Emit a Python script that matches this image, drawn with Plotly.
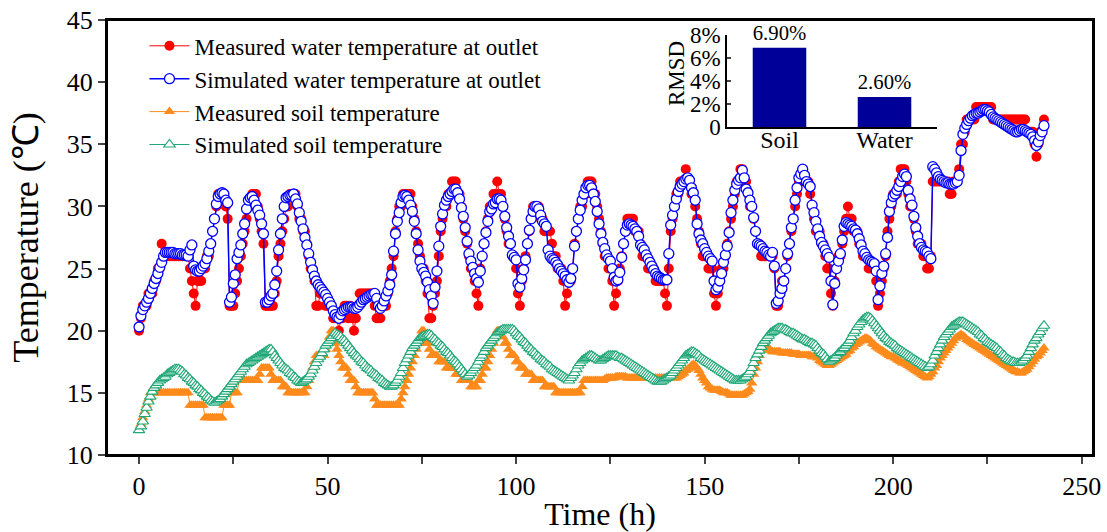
import plotly.graph_objects as go

# time stamps: whole hours and half hours
hours = list(range(241))
half_hours = [h + 0.5 for h in range(240)]

# ---- values read at whole hours ----
sim_water = [
    20.3, 21.7, 22.3, 23.0, 23.8, 24.6, 25.5, 26.3, 26.3, 26.3,
    26.2, 26.2, 26.1, 26.0, 26.9, 24.9, 24.8, 25.2, 25.8, 27.0,
    29.0, 30.8, 31.1, 30.5, 22.3, 23.8, 25.8, 26.9, 28.6, 30.5,
    30.8, 30.1, 29.3, 27.8, 22.3, 22.8, 23.7, 26.5, 29.0, 30.7,
    30.9, 31.0, 30.2, 28.8, 27.5, 26.2, 24.9, 24.0, 23.5, 23.1,
    22.6, 22.0, 21.3, 21.0, 21.6, 21.8, 21.9, 21.8, 21.9, 22.3,
    22.6, 22.8, 22.9, 22.6, 21.8, 22.4, 23.2, 24.5, 27.8, 29.5,
    30.8, 30.8, 30.1, 28.8, 26.5, 25.0, 24.4, 23.3, 22.2, 24.8,
    28.4, 30.1, 30.8, 31.2, 31.4, 30.6, 29.2, 27.2, 25.6, 24.6,
    23.9, 26.0, 27.9, 29.6, 30.2, 30.6, 30.5, 29.2, 27.6, 26.1,
    25.7, 23.5, 24.9, 27.0, 29.0, 30.0, 29.8, 28.8, 28.4, 26.0,
    25.7, 25.3, 24.8, 24.4, 23.9, 25.0, 28.0, 29.7, 31.0, 31.7,
    31.5, 30.4, 28.6, 27.1, 26.1, 25.6, 24.3, 24.1, 25.9, 28.0,
    28.6, 28.4, 28.0, 26.9, 26.5, 25.8, 25.2, 24.6, 24.3, 24.1,
    24.1, 28.5, 30.0, 31.2, 31.8, 32.2, 32.1, 31.1, 28.6, 27.3,
    26.6, 26.0, 25.6, 23.3, 24.0, 25.5, 26.8, 29.5, 31.3, 32.1,
    32.9, 31.4, 30.5, 29.1, 27.0, 26.8, 26.4, 26.1, 26.3, 22.2,
    23.0, 24.0, 26.2, 28.3, 30.5, 32.3, 33.0, 32.0, 31.6, 29.5,
    28.2, 27.1, 26.5, 25.9, 22.1, 25.0, 26.2, 28.4, 28.6, 28.4,
    28.1, 27.4, 26.4, 25.9, 25.6, 25.4, 22.5, 24.6, 26.2, 29.6,
    30.8, 31.3, 32.0, 32.6, 31.3, 30.1, 28.3, 27.0, 26.5, 26.3,
    25.8, 33.0, 32.4, 32.1, 31.9, 31.8, 31.8, 32.0, 34.5, 36.3,
    36.9, 37.3, 37.5, 37.6, 37.8, 37.7, 37.4, 37.1, 36.9, 36.7,
    36.5, 36.3, 36.1, 36.0, 36.2, 36.1, 35.9, 35.6, 34.9, 35.7,
    36.5,
]

meas_water = [
    20, 22, 22, 23, 24, 25, 27, 26, 26, 26,
    26, 26, 26, 26, 24, 22, 24, 25, 26, 27,
    29, 31, 31, 30, 22, 22, 24, 26, 28, 30,
    31, 31, 29, 27, 22, 22, 23, 26, 28, 30,
    31, 31, 30, 29, 28, 26, 25, 22, 23, 23,
    22, 22, 21, 20, 21, 22, 22, 20, 22, 23,
    23, 23, 23, 21, 21, 22, 23, 25, 28, 30,
    31, 31, 31, 29, 27, 25, 24, 21, 22, 24,
    28, 30, 31, 32, 32, 31, 29, 27, 25, 24,
    22, 26, 28, 30, 31, 32, 31, 29, 27, 26,
    25, 22, 25, 27, 29, 30, 30, 29, 28, 28,
    26, 25, 25, 22, 24, 25, 28, 30, 31, 32,
    32, 31, 29, 27, 26, 25, 22, 24, 26, 28,
    29, 29, 28, 27, 26, 25, 25, 24, 24, 24,
    22, 28, 30, 31, 32, 33, 32, 31, 29, 27,
    26, 25, 25, 22, 24, 25, 27, 29, 31, 32,
    33, 32, 30, 29, 27, 26, 26, 26, 26, 22,
    23, 24, 26, 28, 30, 32, 33, 32, 31, 29,
    28, 27, 26, 25, 22, 25, 26, 28, 30, 29,
    28, 27, 26, 26, 25, 25, 22, 24, 26, 29,
    31, 31, 33, 33, 31, 30, 28, 27, 26, 25,
    26, 32, 32, 32, 32, 31, 32, 32, 35, 36,
    37, 37, 38, 38, 38, 38, 38, 37, 37, 37,
    37, 37, 37, 37, 37, 37, 36, 36, 34, 36,
    37,
]

sim_soil = [
    12.0, 12.7, 13.8, 14.7, 15.4, 15.8, 16.1, 16.3, 16.6, 16.8,
    16.9, 16.8, 16.5, 16.2, 15.9, 15.6, 15.3, 15.0, 14.7, 14.4,
    14.2, 14.4, 14.7, 15.1, 15.5, 15.9, 16.3, 16.7, 17.1, 17.4,
    17.6, 17.8, 18.0, 18.2, 18.4, 18.5, 18.0, 17.6, 17.2, 16.9,
    16.6, 16.3, 16.0, 15.8, 16.0, 16.3, 16.8, 17.4, 17.9, 18.5,
    19.0, 19.4, 19.8, 19.6, 19.3, 19.0, 18.6, 18.2, 17.9, 17.5,
    17.2, 16.9, 16.6, 16.4, 16.1, 15.8, 15.6, 15.5, 15.8, 16.3,
    17.0, 17.7, 18.3, 18.8, 19.2, 19.5, 19.6, 19.7, 19.4, 19.1,
    18.8, 18.5, 18.2, 17.8, 17.5, 17.1, 16.7, 16.3, 16.6, 17.0,
    17.5, 18.0, 18.6, 19.0, 19.4, 19.8, 20.0, 20.1, 20.1, 20.1,
    19.8, 19.5, 19.1, 18.8, 18.5, 18.2, 17.9, 17.6, 17.3, 17.1,
    16.8, 16.6, 16.4, 16.2, 16.0, 16.4, 16.9, 17.4, 17.7, 17.9,
    18.0, 17.8, 17.6, 17.7, 17.9, 18.0, 18.0, 17.9, 17.8, 17.6,
    17.4, 17.2, 17.0, 16.8, 16.6, 16.4, 16.2, 16.0, 15.9, 16.0,
    16.2, 16.4, 16.8, 17.2, 17.6, 18.0, 18.2, 18.3, 18.1, 17.8,
    17.6, 17.4, 17.2, 17.0, 16.8, 16.6, 16.4, 16.2, 16.0, 16.0,
    16.1, 16.3, 16.7, 17.4, 18.1, 18.7, 19.2, 19.6, 19.9, 20.1,
    20.2, 20.1, 20.0, 19.8, 19.7, 19.5, 19.3, 19.2, 19.0, 18.9,
    18.6, 18.2, 17.9, 17.5, 17.7, 18.0, 18.3, 18.6, 19.0, 19.5,
    20.0, 20.5, 20.9, 21.1, 21.0, 20.6, 20.2, 19.8, 19.4, 19.1,
    18.9, 18.6, 18.4, 18.2, 18.0, 17.8, 17.6, 17.4, 17.2, 17.0,
    17.3, 18.0, 18.6, 19.2, 19.7, 20.1, 20.4, 20.6, 20.7, 20.6,
    20.4, 20.2, 20.0, 19.7, 19.4, 19.1, 18.9, 18.7, 18.4, 18.1,
    17.8, 17.6, 17.5, 17.4, 17.5, 17.8, 18.3, 18.9, 19.4, 19.9,
    20.4,
]

meas_soil = [
    12, 13, 14, 15, 15, 15, 15, 15, 15, 15,
    15, 15, 15, 15, 14, 14, 14, 14, 13, 13,
    13, 13, 13, 14, 14, 15, 15, 16, 16, 16,
    16, 16, 16.5, 17, 17, 16.5, 16, 16, 15.5, 15.5,
    15, 15, 15, 15, 15, 16, 17, 18, 18, 18,
    19, 20, 19, 18, 17, 17, 16, 16, 15, 15,
    15, 15, 15, 14, 14, 14, 14, 14, 14, 14,
    15, 16, 17, 18, 19, 20, 19, 18.5, 18, 18,
    17.5, 17.5, 17, 17, 16.5, 16.5, 16, 16, 15.5, 15.5,
    16, 16.5, 17, 18, 19, 20, 20, 19, 18.5, 18,
    17.5, 17, 17, 16.5, 16.5, 16, 16, 16, 15.5, 15.5,
    15.5, 15, 15, 15, 15, 15, 15, 15, 16, 16,
    16, 16, 16, 16, 16.2, 16.2, 16.2, 16.3, 16.3, 16.3,
    16.2, 16.2, 16.2, 16.2, 16.2, 16.2, 16.2, 16.2, 16.2, 16.2,
    16.2, 16.2, 16.2, 16.3, 16.5, 16.8, 17.0, 17.3, 17.0, 16.5,
    16.0, 15.5, 15.3, 15.2, 15.2, 15.0, 15.0, 14.8, 14.8, 14.8,
    14.8, 15.0, 15.3, 16.5, 17.5, 18.5, 19.0, 18.5, 18.3, 18.3,
    18.3, 18.2, 18.2, 18.2, 18.1, 18.1, 18.0, 18.0, 18.0, 17.9,
    17.8, 17.5, 17.3, 17.2, 17.4, 17.6, 17.8, 18.0, 18.3, 18.6,
    18.9, 19.1, 19.3, 19.4, 19.2, 18.9, 18.6, 18.4, 18.2, 18.0,
    17.9, 17.7, 17.5, 17.4, 17.2, 17.0, 16.8, 16.6, 16.4, 16.2,
    16.5, 17.0, 17.5, 18.0, 18.4, 18.8, 19.2, 19.5, 19.7, 19.5,
    19.2, 19.0, 18.8, 18.6, 18.4, 18.2, 18.0, 17.8, 17.6, 17.4,
    17.2, 17.0, 16.8, 16.7, 16.6, 16.8, 17.1, 17.5, 17.9, 18.2,
    18.6,
]

# ---- values read at half hours (0.5, 1.5, ... 239.5) ----
sim_water_half = [
    21.2, 22.0, 22.6, 23.4, 24.2, 25.1, 26.0, 26.3, 26.3, 26.2,
    26.2, 26.1, 26.1, 26.5, 25.2, 24.8, 25.0, 25.4, 26.4, 28.0,
    30.2, 31.0, 31.0, 30.3, 22.7, 24.5, 26.3, 27.8, 29.8, 30.7,
    30.5, 29.7, 28.6, 22.3, 22.5, 23.0, 24.8, 27.8, 30.0, 30.8,
    30.9, 30.6, 29.5, 28.2, 26.9, 25.5, 24.4, 23.7, 23.3, 22.9,
    22.3, 21.6, 21.1, 21.3, 21.7, 21.9, 21.9, 21.8, 22.1, 22.5,
    22.7, 22.9, 23.0, 22.0, 22.0, 22.8, 23.7, 26.4, 28.8, 30.3,
    30.9, 30.5, 29.6, 27.8, 25.6, 24.7, 23.9, 22.8, 23.5, 26.8,
    29.4, 30.5, 31.0, 31.4, 31.1, 29.9, 28.3, 26.2, 25.1, 24.2,
    24.8, 27.0, 28.8, 29.8, 30.3, 30.6, 30.0, 28.3, 27.0, 25.9,
    23.8, 24.2, 25.7, 28.1, 29.6, 30.0, 29.3, 28.6, 26.5, 25.8,
    25.5, 25.0, 24.6, 24.1, 24.2, 26.8, 29.0, 30.5, 31.5, 31.7,
    31.0, 29.6, 27.8, 26.6, 25.8, 25.0, 24.0, 24.7, 27.0, 28.5,
    28.5, 28.2, 27.6, 26.7, 26.1, 25.5, 24.9, 24.4, 24.2, 24.1,
    26.2, 29.3, 30.6, 31.6, 32.0, 32.3, 31.5, 30.5, 27.8, 27.0,
    26.3, 25.8, 24.0, 23.5, 24.6, 26.1, 27.9, 30.5, 31.8, 32.3,
    32.3, 31.1, 30.0, 28.0, 26.9, 26.6, 26.3, 26.0, 25.2, 22.4,
    23.4, 25.0, 27.0, 29.0, 31.5, 32.6, 32.5, 31.8, 30.1, 28.8,
    27.6, 26.8, 26.2, 24.0, 23.8, 25.6, 27.3, 28.7, 28.5, 28.2,
    27.8, 26.9, 26.2, 25.7, 25.5, 24.8, 23.6, 25.2, 27.5, 30.3,
    31.0, 31.6, 32.4, 32.4, 30.6, 29.2, 27.6, 26.7, 26.4, 26.0,
    33.2, 32.7, 32.2, 32.0, 31.9, 31.8, 31.9, 32.5, 35.8, 36.6,
    37.1, 37.4, 37.5, 37.7, 37.8, 37.6, 37.2, 37.0, 36.8, 36.6,
    36.4, 36.2, 36.0, 36.1, 36.2, 36.0, 35.8, 35.3, 35.2, 36.0,
]

meas_water_half = [
    21, 22, 23, 23, 24, 25, 26, 26, 26, 26,
    26, 26, 26, 25, 23, 24, 24, 25, 26, 28,
    30, 31, 31, 29, 22, 23, 25, 27, 29, 30,
    31, 30, 28, 22, 22, 22, 24, 27, 29, 30,
    31, 31, 29, 28, 27, 25, 24, 22, 23, 22,
    22, 21, 21, 21, 22, 21, 21, 21, 23, 23,
    23, 23, 22, 21, 22, 22, 24, 26, 29, 30,
    31, 31, 30, 28, 26, 25, 23, 21, 23, 26,
    29, 30, 31, 32, 31, 30, 28, 26, 25, 23,
    25, 27, 29, 30, 31, 31, 30, 28, 27, 26,
    23, 24, 26, 28, 30, 30, 29, 28, 28, 27,
    26, 25, 24, 23, 24, 27, 29, 30, 31, 32,
    31, 30, 28, 26, 25, 24, 23, 25, 27, 29,
    29, 28, 28, 26, 26, 25, 25, 24, 24, 23,
    25, 29, 31, 32, 32, 32, 31, 30, 28, 26,
    26, 25, 23, 23, 25, 26, 28, 30, 32, 33,
    32, 31, 30, 28, 27, 26, 26, 26, 25, 22,
    24, 25, 27, 29, 31, 32, 32, 32, 30, 28,
    28, 27, 25, 23, 24, 26, 27, 29, 29, 28,
    28, 27, 26, 25, 25, 24, 23, 25, 28, 30,
    31, 32, 33, 32, 30, 29, 27, 27, 26, 25,
    32, 32, 32, 32, 32, 31, 32, 33, 35, 37,
    37, 37, 38, 38, 38, 38, 37, 37, 37, 37,
    37, 37, 37, 37, 37, 36, 36, 35, 35, 36,
]

sim_soil_half = [
    12.3, 13.3, 14.3, 15.1, 15.6, 16.0, 16.2, 16.5, 16.7, 16.9,
    16.9, 16.7, 16.4, 16.1, 15.8, 15.5, 15.2, 14.9, 14.6, 14.3,
    14.3, 14.5, 14.9, 15.3, 15.7, 16.1, 16.5, 16.9, 17.3, 17.5,
    17.7, 17.9, 18.1, 18.3, 18.5, 18.3, 17.8, 17.4, 17.0, 16.8,
    16.5, 16.2, 15.9, 15.9, 16.1, 16.5, 17.1, 17.7, 18.2, 18.8,
    19.2, 19.6, 19.7, 19.5, 19.2, 18.8, 18.4, 18.0, 17.7, 17.4,
    17.0, 16.8, 16.5, 16.2, 16.0, 15.7, 15.5, 15.6, 16.0, 16.6,
    17.4, 18.0, 18.6, 19.0, 19.4, 19.6, 19.7, 19.6, 19.3, 19.0,
    18.7, 18.3, 18.0, 17.6, 17.3, 16.9, 16.5, 16.4, 16.8, 17.2,
    17.8, 18.3, 18.8, 19.2, 19.6, 19.9, 20.1, 20.1, 20.1, 20.0,
    19.6, 19.3, 19.0, 18.6, 18.3, 18.0, 17.7, 17.5, 17.2, 16.9,
    16.7, 16.5, 16.3, 16.1, 16.2, 16.6, 17.2, 17.6, 17.8, 18.0,
    17.9, 17.7, 17.6, 17.8, 18.0, 18.0, 18.0, 17.8, 17.7, 17.5,
    17.3, 17.1, 16.9, 16.7, 16.5, 16.3, 16.1, 15.9, 15.9, 16.1,
    16.3, 16.6, 17.0, 17.4, 17.8, 18.1, 18.3, 18.2, 18.0, 17.7,
    17.5, 17.3, 17.1, 16.9, 16.7, 16.5, 16.3, 16.1, 16.0, 16.0,
    16.2, 16.5, 17.0, 17.8, 18.4, 19.0, 19.4, 19.8, 20.0, 20.2,
    20.2, 20.1, 19.9, 19.8, 19.6, 19.4, 19.3, 19.1, 19.0, 18.8,
    18.4, 18.1, 17.7, 17.6, 17.8, 18.2, 18.5, 18.8, 19.2, 19.8,
    20.3, 20.7, 21.0, 21.1, 20.8, 20.4, 20.0, 19.6, 19.3, 19.0,
    18.8, 18.5, 18.3, 18.1, 17.9, 17.7, 17.5, 17.3, 17.1, 17.1,
    17.6, 18.3, 18.9, 19.5, 19.9, 20.3, 20.5, 20.7, 20.7, 20.5,
    20.3, 20.1, 19.9, 19.6, 19.3, 19.0, 18.8, 18.6, 18.3, 18.0,
    17.7, 17.5, 17.4, 17.4, 17.6, 18.0, 18.6, 19.2, 19.7, 20.2,
]

meas_soil_half = [
    12.5, 13.5, 14.5, 15, 15, 15, 15, 15, 15, 15,
    15, 15, 15, 14, 14, 14, 14, 13, 13, 13,
    13, 13, 14, 14, 15, 15, 16, 16, 16, 16,
    16, 16, 17, 17, 17, 16, 16, 16, 15.5, 15,
    15, 15, 15, 15, 15.5, 16.5, 17.5, 18, 18, 18.5,
    19.5, 20, 18.5, 17.5, 17, 16.5, 16, 15.5, 15, 15,
    15, 15, 14.5, 14, 14, 14, 14, 14, 14, 14.5,
    15.5, 16.5, 17.5, 18.5, 19.5, 20, 19, 18, 18, 17.5,
    17.5, 17, 17, 17, 16.5, 16, 16, 16, 15.5, 15.5,
    16, 17, 17.5, 18.5, 19.5, 20, 19.5, 19, 18, 18,
    17.5, 17, 16.5, 16.5, 16, 16, 16, 15.5, 15.5, 15.5,
    15, 15, 15, 15, 15, 15, 15, 15.5, 16, 16,
    16, 16, 16, 16.1, 16.2, 16.2, 16.3, 16.3, 16.3, 16.2,
    16.2, 16.2, 16.2, 16.2, 16.2, 16.2, 16.2, 16.2, 16.2, 16.2,
    16.2, 16.2, 16.2, 16.4, 16.6, 16.9, 17.2, 17.2, 16.8, 16.2,
    15.8, 15.4, 15.2, 15.2, 15.1, 15.0, 14.9, 14.8, 14.8, 14.8,
    14.9, 15.1, 15.8, 17.0, 18.0, 19.0, 18.8, 18.4, 18.3, 18.3,
    18.2, 18.2, 18.2, 18.1, 18.1, 18.0, 18.0, 18.0, 17.9, 17.9,
    17.6, 17.4, 17.2, 17.3, 17.5, 17.7, 17.9, 18.1, 18.4, 18.7,
    19.0, 19.2, 19.4, 19.3, 19.0, 18.7, 18.5, 18.3, 18.1, 17.9,
    17.8, 17.6, 17.4, 17.3, 17.1, 16.9, 16.7, 16.5, 16.3, 16.3,
    16.7, 17.2, 17.8, 18.2, 18.6, 19.0, 19.4, 19.6, 19.6, 19.3,
    19.1, 18.9, 18.7, 18.5, 18.3, 18.1, 17.9, 17.7, 17.5, 17.3,
    17.1, 16.9, 16.7, 16.6, 16.7, 16.9, 17.3, 17.7, 18.0, 18.4,
]

rmsd_cats = ["Soil", "Water"]
rmsd_vals = [6.90, 2.60]

x_ticks = [0, 50, 100, 150, 200, 250]
y_ticks = [10, 15, 20, 25, 30, 35, 40, 45]
inset_ticks = [0, 2, 4, 6, 8]
inset_ticktext = ["0", "2%", "4%", "6%", "8%"]


def merge(whole, half):
    """Put the whole-hour and half-hour readings in time order."""
    assert len(whole) == 241 and len(half) == 240, (len(whole), len(half))
    out = []
    for i in range(240):
        out.append(whole[i])
        out.append(half[i])
    out.append(whole[240])
    return out


times = merge(hours, half_hours)

FONT = "Liberation Serif, Times New Roman, serif"
RED = "#FF0000"
BLUE = "#0000FF"
ORANGE = "#FF8A1C"
GREEN = "#1FA777"
NAVY = "#000099"

fig = go.Figure()

fig.add_trace(go.Scatter(
    x=times, y=merge(meas_water, meas_water_half), mode="lines+markers",
    name="Measured water temperature at outlet",
    line=dict(color=RED, width=1),
    marker=dict(symbol="circle", size=10, color=RED, line=dict(width=0)),
))
fig.add_trace(go.Scatter(
    x=times, y=merge(sim_water, sim_water_half), mode="lines+markers",
    name="Simulated water temperature at outlet",
    line=dict(color=BLUE, width=1.5),
    marker=dict(symbol="circle", size=10, color="white", line=dict(color=BLUE, width=1.3)),
))
fig.add_trace(go.Scatter(
    x=times, y=merge(meas_soil, meas_soil_half), mode="lines+markers",
    name="Measured soil temperature",
    line=dict(color=ORANGE, width=1),
    marker=dict(symbol="triangle-up", size=10, color=ORANGE, line=dict(width=0)),
))
fig.add_trace(go.Scatter(
    x=times, y=merge(sim_soil, sim_soil_half), mode="lines+markers",
    name="Simulated soil temperature",
    line=dict(color=GREEN, width=1),
    marker=dict(symbol="triangle-up", size=10, color="white", line=dict(color=GREEN, width=1.1)),
))

fig.add_trace(go.Bar(
    x=rmsd_cats, y=rmsd_vals, xaxis="x2", yaxis="y2",
    marker=dict(color=NAVY, line=dict(width=0)),
    width=0.51, showlegend=False,
    texttemplate="%{y:.2f}%", textposition="outside",
    textfont=dict(family=FONT, size=22, color="black"),
    cliponaxis=False,
))

fig.update_layout(
    width=1107, height=532, autosize=False,
    margin=dict(l=107, r=14, t=20, b=77),
    paper_bgcolor="white", plot_bgcolor="white",
    font=dict(family=FONT, color="black", size=20),
    showlegend=True,
    legend=dict(
        x=0.038, y=0.99, xanchor="left", yanchor="top",
        bgcolor="rgba(0,0,0,0)", font=dict(family=FONT, size=23),
        itemwidth=40, tracegroupgap=0,
    ),
    xaxis=dict(
        range=[-8.5, 253], tickvals=x_ticks, ticks="outside", ticklen=7, tickwidth=2,
        showline=True, linewidth=2, linecolor="black", mirror=True,
        showgrid=False, zeroline=False, automargin=False, ticklabeloverflow="allow",
        tickfont=dict(family=FONT, size=26),
        minor=dict(dtick=25, tick0=0, ticks="outside", ticklen=7, tickwidth=2, showgrid=False),
        title=dict(text="Time (h)", font=dict(family=FONT, size=32), standoff=4),
    ),
    yaxis=dict(
        range=[10, 45], tickvals=y_ticks, ticks="outside", ticklen=7, tickwidth=2,
        showline=True, linewidth=2, linecolor="black", mirror=True,
        showgrid=False, zeroline=False, automargin=False, ticklabeloverflow="allow",
        tickfont=dict(family=FONT, size=26),
        title=dict(text="Temperature (℃)", font=dict(family=FONT, size=36), standoff=17),
    ),
    xaxis2=dict(
        domain=[0.6288, 0.8418], anchor="y2", type="category",
        range=[-0.5, 1.5], showline=True, linewidth=2, linecolor="black",
        ticks="", showgrid=False, zeroline=False, automargin=False,
        tickfont=dict(family=FONT, size=24), ticklabelstandoff=-10,
    ),
    yaxis2=dict(
        domain=[0.754, 0.9655], anchor="x2", range=[0, 8],
        tickvals=inset_ticks, ticktext=inset_ticktext,
        ticks="inside", ticklen=4, tickwidth=1.5,
        showline=True, linewidth=1.5, linecolor="black",
        showgrid=False, zeroline=False, automargin=False,
        tickfont=dict(family=FONT, size=23),
    ),
    bargap=0.49,
    shapes=[dict(type="rect", xref="paper", yref="paper", x0=0, x1=1, y0=0, y1=1,
                 line=dict(color="black", width=2), layer="above")],
    annotations=[dict(text="RMSD", xref="paper", yref="paper", x=0.577, y=0.878,
                      textangle=-90, showarrow=False, xanchor="center", yanchor="middle",
                      font=dict(family=FONT, size=23, color="black"))],
)

fig.write_html(
    "out.html",
    config={"displayModeBar": False},
    post_script="document.body.style.margin='0';",
)
